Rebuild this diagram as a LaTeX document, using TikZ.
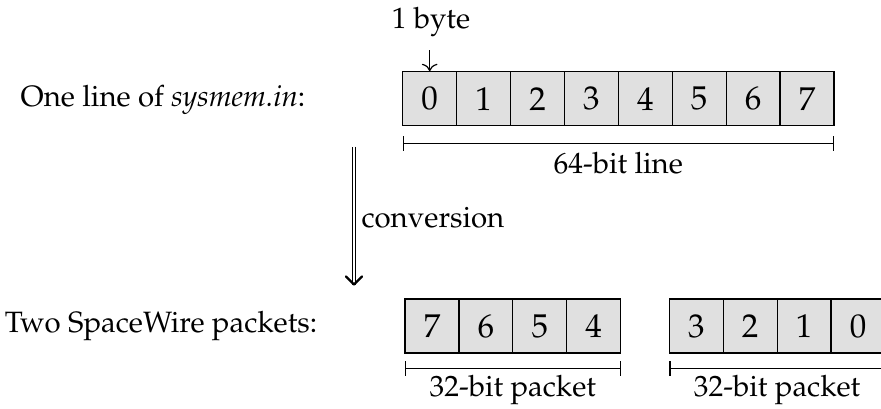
\documentclass[tikz,border=0pt]{standalone}
\usepackage[T1]{fontenc}
\usepackage{mathpazo}
\usetikzlibrary{arrows.meta,calc}
\begin{document}
\begin{tikzpicture}[x=0.3333pt,y=-0.3333pt,
  cell/.style={draw, fill=black!12, minimum size=18pt, inner sep=0pt, font=\fontsize{11}{13}\selectfont},
  lbl/.style={inner sep=0pt, font=\fontsize{9.8}{12}\selectfont},
  dim/.style={{Bar[width=4.8pt]}-{Bar[width=4.8pt]}}]
\useasboundingbox (0,0) rectangle (881,408);
% top row
\foreach \i in {0,...,7}{
  \node[cell] (t\i) at ({429.7+53.9*\i},98.8) {\i};
}
\node[lbl] (lone) at (163,100) {One line of \textit{sysmem.in}:};
\node[lbl] (byte) at (431,22) {1 byte};
\coordinate (bytetail) at (429.7,50);
\draw[->] (bytetail) -- (t0.north);
\coordinate (ta) at (402.7,143.3);
\coordinate (tb) at (834,143.3);
\draw[dim] (ta) -- (tb);
\node[lbl] (l64) at (618.3,163) {64-bit line};
% conversion
\coordinate (ca) at (354,146.7);
\coordinate (cb) at (354,284.5);
\draw[double] (ca) -- (cb);
\draw[line width=0.75pt, line join=round, line cap=round] ($(cb)+(-8,-8)$) -- (cb) -- ($(cb)+(8,-8)$);
\node[lbl, anchor=west] (conv) at (361,218) {conversion};
% bottom row
\node[lbl] (ltwo) at (161,326) {Two SpaceWire packets:};
\foreach \v [count=\i from 0] in {7,6,5,4}{
  \node[cell] (a\i) at ({432+53.9*\i},326) {\v};
}
\foreach \v [count=\i from 0] in {3,2,1,0}{
  \node[cell] (b\i) at ({696.3+53.9*\i},326) {\v};
}
\coordinate (aa) at (405,368.3);
\coordinate (ab) at (620.7,368.3);
\draw[dim] (aa) -- (ab);
\coordinate (ba) at (669.3,368.3);
\coordinate (bb) at (885,368.3);
\draw[dim] (ba) -- (bb);
\node[lbl] (pa) at (512.8,390) {32-bit packet};
\node[lbl] (pb) at (777.1,390) {32-bit packet};
\end{tikzpicture}
\end{document}
